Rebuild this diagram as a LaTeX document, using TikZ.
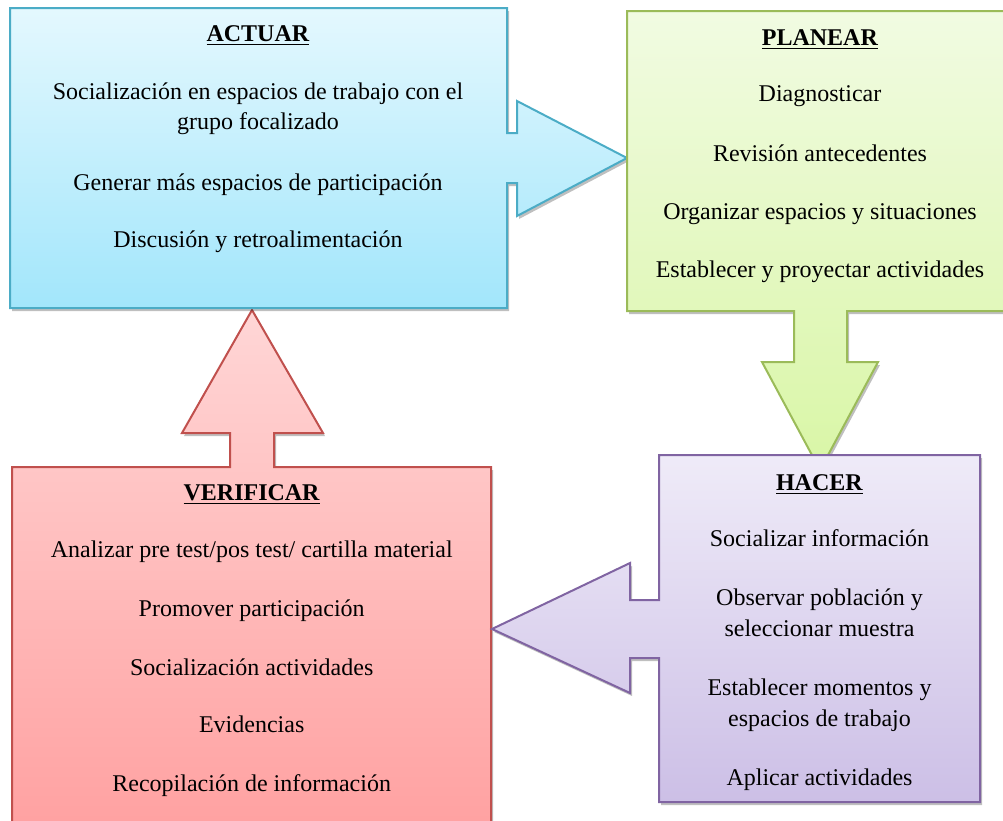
\documentclass[tikz,border=0pt]{standalone}
\usepackage{fontspec}
\setmainfont{Liberation Serif}
\usetikzlibrary{shadows}
\definecolor{bluetop}{HTML}{E4F8FE}
\definecolor{bluebot}{HTML}{A2E6FB}
\definecolor{blueline}{HTML}{4BACC6}
\definecolor{greentop}{HTML}{F1FBE2}
\definecolor{greenbot}{HTML}{D9F6A6}
\definecolor{greenline}{HTML}{9BBB59}
\definecolor{purptop}{HTML}{EFEBF8}
\definecolor{purpbot}{HTML}{CCBFE6}
\definecolor{purpline}{HTML}{8064A2}
\definecolor{redtop}{HTML}{FFD6D6}
\definecolor{redbot}{HTML}{FFA0A0}
\definecolor{redline}{HTML}{C0504D}
\newcommand\myul[1]{\setbox0\hbox{#1}\rlap{\vrule height -2.6pt depth 4.4pt width \wd0}\box0}
\tikzset{
  callout/.style={line width=2pt, line join=miter, top color=#1top, bottom color=#1bot, draw=#1line,
    drop shadow={shadow xshift=2pt, shadow yshift=-3pt, opacity=0.25, fill=black}},
  txt/.style={anchor=base, inner sep=0pt, font=\fontsize{24}{30}\selectfont, align=center, text=black},
}
\begin{document}
\begin{tikzpicture}[x=1pt,y=-1pt]
\useasboundingbox (0,0) rectangle (1003,820);
\clip (0,0) rectangle (1003,820);
% VERIFICAR (red)
\path[callout=red] (12,467) -- (230,467) -- (230,433) -- (182,433) -- (252,310) -- (323,433) -- (274,433) -- (274,467) -- (491,467) -- (491,840) -- (12,840) -- cycle;
% ACTUAR (blue)
\path[callout=blue] (10,8) -- (507,8) -- (507,133) -- (517,133) -- (517,101) -- (627,158) -- (517,216) -- (517,183) -- (507,183) -- (507,308) -- (10,308) -- cycle;
% PLANEAR (green)
\path[callout=green] (627,11) -- (1015,11) -- (1015,311) -- (847,311) -- (847,362) -- (878,362) -- (820,470) -- (762,362) -- (794,362) -- (794,311) -- (627,311) -- cycle;
% HACER (purple)
\path[callout=purp] (659,455) -- (980,455) -- (980,802) -- (659,802) -- (659,658) -- (630,658) -- (630,693) -- (492,629) -- (630,563) -- (630,600) -- (659,600) -- cycle;

% ACTUAR texts
\node[txt] (a0) at (258,41) {\myul{\textbf{ACTUAR}}};
\node[txt] (a1) at (258,99.5) {Socialización en espacios de trabajo con el};
\node[txt] (a2) at (258,129.5) {grupo focalizado};
\node[txt] (a3) at (258,190) {Generar más espacios de participación};
\node[txt] (a4) at (258,247) {Discusión y retroalimentación};
% PLANEAR texts
\node[txt] (p0) at (820,45) {\myul{\textbf{PLANEAR}}};
\node[txt] (p1) at (820,101.7) {Diagnosticar};
\node[txt] (p2) at (820,161) {Revisión antecedentes};
\node[txt] (p3) at (820,219) {Organizar espacios y situaciones};
\node[txt] (p4) at (820,277.7) {Establecer y proyectar actividades};
% HACER texts
\node[txt] (h0) at (819.5,490) {\myul{\textbf{HACER}}};
\node[txt] (h1) at (819.5,546.7) {Socializar información};
\node[txt] (h2) at (819.5,605) {Observar población y};
\node[txt] (h3) at (819.5,636.7) {seleccionar muestra};
\node[txt] (h4) at (819.5,695) {Establecer momentos y};
\node[txt] (h5) at (819.5,726.7) {espacios de trabajo};
\node[txt] (h6) at (819.5,785) {Aplicar actividades};
% VERIFICAR texts
\node[txt] (v0) at (251.7,500) {\myul{\textbf{VERIFICAR}}};
\node[txt] (v1) at (251.7,557.3) {Analizar pre test/pos test/ cartilla material};
\node[txt] (v2) at (251.7,616.7) {Promover participación};
\node[txt] (v3) at (251.7,675) {Socialización actividades};
\node[txt] (v4) at (251.7,732.7) {Evidencias};
\node[txt] (v5) at (251.7,791.7) {Recopilación de información};
\end{tikzpicture}
\end{document}
